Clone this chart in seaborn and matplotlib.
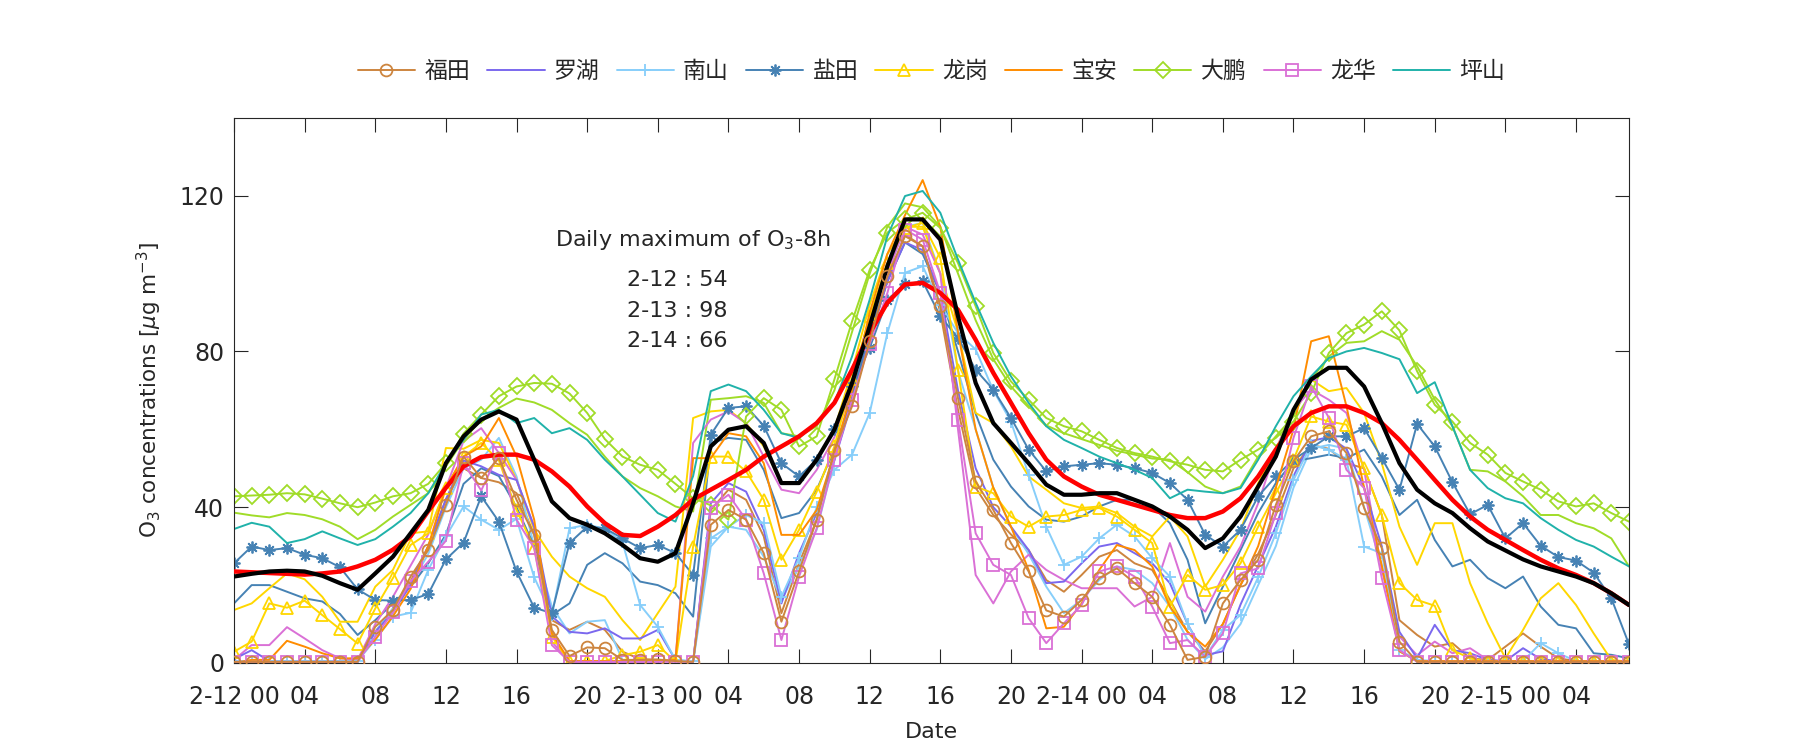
import numpy as np
import matplotlib
matplotlib.use('Agg')
import matplotlib.pyplot as plt
import seaborn as sns

sns.set_style('ticks')
plt.rcParams['font.family'] = ['DejaVu Sans', 'Noto Sans CJK SC']
plt.rcParams['axes.unicode_minus'] = False

# hourly O3 (ug/m3), 2-12 00 .. 2-15 07
hours = np.arange(80)

futian = [0.3, 0.3, 0.3, 0.3, 0.3, 0.3, 0.3, 0.3,
          9.3, 13.6, 22.2, 29, 40.6, 53, 47.5, 52.6, 41.9, 32.9, 8.5, 1.8, 4, 3.8, 0.8, 0.8, 0.9, 0.5, 0.3,
          35.5, 39.3, 36.8, 28.2, 10.6, 23.5, 36.8, 54.8, 65.9, 82.6, 99.3, 109.6, 107, 91.6,
          68, 46.6, 39.3, 30.8, 23.5, 13.5, 11.9, 16.2, 21.8, 24.3, 20.5, 17, 9.8,
          0.8, 1.6, 15.3, 21.3, 26.5, 40.6, 51.8, 58.2, 59.5, 53.9, 39.8, 29.5, 5.5,
          0.3, 0.3, 0.3, 0.3, 0.3, 0.3, 0.3, 0.3, 0.3, 0.3, 0.3, 0.3, 0.3]
futian_b = [0.3, 0.3, 0.3, 0.3, 0.3, 0.3, 0.3, 0.3,
            8, 14, 21, 30, 42, 50, 47.5, 46.4, 43.6, 33, 11, 8.5, 10.6, 8.5, 2.9, 1, 0.8, 0.5, 0.3,
            39.3, 44.5, 41.9, 32.5, 12.8, 25.6, 36.8, 54, 67, 83, 98, 110, 107, 90,
            65, 45, 38, 33, 29, 21.3, 18.3, 22.6, 27.3, 29, 25.6, 23.9, 16.2,
            8, 3, 10, 20, 28, 38, 50, 56, 55, 51.3, 50, 38, 11,
            7.2, 4.2, 5.1, 1.2, 0.8, 4.2, 7.6, 4.2, 1.2, 0.5, 0.5, 0.5, 0.5]
luohu = [1, 3.3, 0.5, 0.5, 0.5, 0.5, 0.5, 0.5,
         8, 13, 20, 30, 42, 52, 50.5, 48.3, 47, 35, 12, 8, 7.6, 8.9, 6.3, 6.3, 8.5, 0.8, 0.3,
         41, 46.2, 44, 34.2, 15.3, 28.2, 38.5, 52, 67, 83, 98, 108, 106, 95,
         70, 50, 40, 35, 29, 20.5, 20.9, 25.6, 29.9, 30.8, 28.2, 25.6, 20.5,
         10, 2, 3, 15, 25, 35, 48, 57, 58, 55, 45, 30, 8,
         1.2, 9.8, 3.3, 2.5, 0.8, 0.5, 3.8, 1, 0.5, 0.5, 0.5, 0.5, 0.5]
nanshan = [0.5, 0.5, 0.5, 0.5, 0.5, 0.5, 0.5, 0.5,
           6, 11.9, 12.9, 23.9, 32.5, 40.2, 36.8, 34.2, 37, 22, 12.3, 34.6, 35.5, 34.5, 31, 14.9, 9.3, 0.8, 0.5,
           32, 35, 38, 35.9, 17, 27, 40, 49.6, 53.5, 64.2, 84.7, 100.2, 101.9, 92,
           84.7, 80.5, 70, 62, 48.3, 35, 25.2, 27.3, 32, 35.5, 32.5, 26.9, 22.2,
           10, 1.6, 8.5, 12.3, 22, 33.3, 47, 56, 54.8, 52.2, 29.9, 28.2, 3.3,
           0.8, 0.5, 0.5, 0.5, 0.5, 0.5, 0.5, 5.1, 2.5, 0.5, 0.5, 0.5, 0.5]
nanshan_b = [0.5, 0.5, 0.5, 0.5, 0.5, 0.5, 0.5, 0.5,
             8, 14, 20, 28, 40, 50, 52.2, 57.8, 47.9, 30, 14.5, 7.6, 10.6, 11, 0.8, 0.5, 0.5, 0.5, 0.3,
             29.9, 35, 34.2, 27.3, 16.2, 24.8, 34.2, 52.2, 68, 85, 100, 112, 113, 100,
             75, 60, 45, 35, 28, 19.6, 12.8, 16.2, 21.3, 24.8, 23.9, 20.5, 14.5,
             6, 1, 4, 10, 20, 30, 45, 55, 56, 55, 40, 25, 3,
             0.5, 0.5, 0.5, 0.5, 0.5, 0.5, 0.5, 0.5, 0.5, 0.5, 0.5, 0.5, 0.5]
yantian = [25.6, 29.9, 29, 29.5, 27.8, 26.9, 24.6, 18.9,
           16.2, 16, 16.2, 17.7, 26.6, 30.9, 42.8, 36.3, 23.5, 14.2, 12.8, 30.8, 35, 34.6, 32, 29.5, 30.3, 28.2, 22.6,
           58.6, 65.5, 65.9, 60.9, 51.3, 47.9, 52.2, 60, 71, 80.9, 93.3, 97.2, 98, 89,
           83.5, 75.3, 70.2, 62.9, 54.8, 49.2, 50.5, 50.9, 51.3, 50.9, 50, 48.8, 46.2,
           41.9, 32.9, 29.9, 34.2, 42.8, 47.9, 52.2, 55.2, 58.2, 58.2, 60.3, 52.6, 44.5,
           61.4, 55.6, 46.4, 38.2, 40.6, 32, 35.9, 30.1, 27.2, 26.3, 23.2, 16.6, 4.8]
yantian_b = [15.3, 20, 20, 18.3, 16.6, 15.8, 12.6, 7.2,
             11, 15.3, 19.6, 25.6, 33, 46, 50, 48, 40, 30, 12.3, 15.3, 25.2, 28.2, 25.6, 20.9, 20, 17.9, 11.9,
             56.5, 57.8, 57.3, 49.6, 37.2, 38.5, 44.5, 54.8, 68, 85, 98, 108, 105, 95,
             80, 64, 52.2, 45.3, 40.2, 36.8, 36.3, 37.6, 40.2, 41.9, 41.9, 40.2, 35.9,
             26.5, 10.2, 19.6, 29, 38.5, 46.2, 51.8, 52.6, 53.5, 52.6, 54.8, 47.9, 38,
             41.9, 31.6, 24.8, 26.5, 21.8, 19.2, 22.2, 14.5, 9.8, 8.9, 2.5, 2.1, 1.2]
longgang = [2.9, 5.5, 15.3, 14.2, 16, 12.3, 8.7, 5,
            14, 21.8, 30.3, 33.3, 45, 53, 56.5, 52, 39.3, 29.5, 6.8, 0.3, 0.5, 0.5, 2, 2.9, 4.6, 0.3, 29.9,
            53, 53, 49.2, 41.9, 26.5, 34.2, 44, 55.6, 72.8, 89, 102.7, 111.7, 113, 104,
            75.3, 45.3, 43.6, 37.6, 35, 37.6, 38, 39.3, 39.8, 37.6, 34.2, 30.8, 14.5,
            22.6, 18.8, 20, 25.6, 35, 43.6, 52.2, 63.3, 62, 61.2, 50, 38, 20.5,
            16.2, 14.7, 3.3, 1.2, 0.3, 0.3, 0.3, 0.3, 0.3, 0.3, 0.3, 0.3, 0.3]
longgang_b = [13.6, 15.3, 19.2, 23, 21.5, 17, 10.6, 10.6,
              19.6, 23.9, 33.3, 33.8, 55.2, 55, 57.3, 56.5, 47, 34.2, 27.3, 22.2, 19.2, 17, 11, 5.9, 12.8, 19.6, 62.9,
              64.6, 65, 61.6, 55.6, 46.2, 46.2, 52, 60, 75, 92, 105, 112, 112, 100,
              85, 64.2, 61.6, 55.6, 47.9, 44.5, 41, 39.8, 40.2, 38.5, 35, 32.5, 37.6,
              32.5, 19.6, 26.5, 34.2, 46.2, 54.8, 65, 72.8, 69.8, 70.6, 64.2, 51.3, 35,
              25.2, 35.9, 35.9, 20.5, 10.2, 1.2, 8.5, 16.6, 20.5, 14.9, 7.6, 0.8, 0.3]
baoan = [0, 0.8, 0.8, 5.7, 4.2, 2.5, 1.2, 1.2,
         6, 12, 19, 30, 45, 53, 55.6, 62.9, 53, 36.8, 7.6, 0.5, 0.5, 0.5, 0.5, 0.5, 0.5, 0.8, 52.6,
         52.6, 59, 58.2, 51.3, 32.9, 32.9, 39.3, 53.9, 70, 90, 105, 115, 124, 112,
         85, 60, 45, 35, 23.9, 8.9, 9.3, 15.3, 23.9, 30.3, 29, 24.8, 14.5,
         8, 4.2, 10, 20, 30, 45, 60, 82.6, 83.9, 65.9, 45, 25, 3,
         0.5, 0.5, 0.5, 0.5, 0.5, 0.5, 0.5, 0.5, 0.5, 0.5, 0.5, 0.5, 0.5]
dapeng = [42.8, 43, 43.2, 43.6, 43.3, 42.2, 41, 40,
          41.2, 42.8, 43.6, 46, 51.3, 58.9, 63.8, 68.5, 71, 71.9, 71.7, 69.2, 64.2, 57.5, 53, 50.9, 49.6, 46, 42.3,
          40.5, 36.8, 63.3, 68, 65, 55.6, 58.2, 72.8, 87.7, 101, 110.5, 113.9, 115.6, 111.7,
          102.7, 91.6, 79.6, 72.3, 67.6, 62.9, 60.8, 59.5, 57.3, 55.2, 53.9, 53, 51.8,
          50.9, 49.6, 49.2, 52.2, 54.8, 57.8, 62, 69.3, 79.6, 84.7, 86.9, 90.3, 85.4,
          74.9, 66.3, 62, 56.5, 53.5, 48.8, 46.6, 44.5, 41.5, 40.2, 41, 38.5, 36.3]
dapeng_b = [38.6, 37.9, 37.4, 38.5, 38, 36.9, 35, 31.8,
            34.2, 37.6, 40.6, 43.6, 50.5, 57.3, 62.5, 65.5, 67.9, 66.9, 65, 61.6, 58.6, 53, 47.9, 44.9, 42.8, 40.2, 38.9,
            67.6, 68, 68.5, 66.8, 59, 58.2, 60.8, 70, 85, 100, 112, 118, 117, 112,
            100, 88, 78, 71, 66, 61, 59, 57.5, 56, 54.5, 53.5, 52.5, 52.2,
            49, 45.3, 43.6, 45.3, 53, 58.2, 63.3, 72.8, 78.7, 82.2, 82.6, 85.2, 83,
            76.2, 67.6, 60.8, 49.6, 49.2, 46.6, 42.8, 38, 38, 35.9, 34.6, 32, 24.8]
longhua = [0.3, 0.3, 0.3, 0.3, 0.3, 0.3, 0.3, 0.3,
           6.8, 13, 21, 26, 31.4, 51.3, 44.3, 54, 36.8, 29.5, 4.6, 0.3, 0.3, 0.3, 0.3, 0.3, 0.3, 0.3, 0.3,
           39.8, 43.2, 36.8, 23, 5.9, 22.2, 34.6, 52.2, 67.6, 82, 95, 111.3, 108.7, 95,
           62.5, 33.3, 25.2, 22.6, 11.5, 5.1, 10.2, 14.9, 23.5, 24.8, 22.2, 14.5, 5.1,
           5.9, 1.6, 7.6, 23, 24.3, 38.5, 57.8, 71, 63, 49.6, 44.9, 21.8, 3.3,
           0.3, 0.3, 0.3, 0.3, 0.3, 0.3, 0.3, 0.3, 0.3, 0.3, 0.3, 0.3, 0.3]
longhua_b = [0.8, 4.6, 4.6, 9.2, 6.3, 3.3, 1.2, 0.8,
             10, 17, 25, 33, 45, 57, 60.3, 53.9, 47, 35, 5.5, 0.3, 0.3, 0.3, 0.3, 0.3, 0.3, 0.8, 56.5,
             62.5, 64.6, 61.6, 53, 44.5, 43.6, 49.6, 58, 70, 88, 100, 112, 110, 100,
             60, 22.6, 15.3, 23.5, 27.8, 23.9, 21.3, 19.2, 19.2, 19.2, 14.5, 17, 30.8,
             17, 13.2, 22.2, 29.9, 41, 54.8, 65, 70.2, 67.6, 64.2, 49.6, 23.9, 6.8,
             2, 5.5, 2.5, 3.8, 0.8, 0.3, 0.3, 0.3, 0.3, 0.3, 0.3, 0.3, 0.3]
pingshan = [34.4, 36, 35, 30.8, 31.8, 33.8, 32, 30.3,
            31.8, 35, 38.5, 43.6, 51.3, 57.3, 63.8, 65, 61.6, 62.9, 59, 60.3, 57.3, 52.2, 47.9, 43.2, 38.5, 36.3, 48,
            69.8, 71.5, 69.8, 65, 59, 57.8, 61.6, 66.8, 78.7, 93.3, 109.6, 119.9, 121.2, 115.6,
            103.6, 92.5, 82.2, 73.6, 66.8, 60.8, 57.3, 55.2, 53, 51.3, 49.6, 47.5, 42.3,
            44.5, 44, 43.6, 44.9, 52.2, 60.8, 68.5, 73.6, 78.3, 80, 80.9, 79.6, 78,
            69.3, 72.1, 60.8, 49.6, 44.9, 42.3, 41, 37.2, 34.2, 31.6, 29.9, 27.3, 24.8]
mean_all = [22.2, 22.9, 23.5, 23.7, 23.5, 22.4, 20.5, 18.8,
            23, 27.3, 33.3, 39.3, 51.3, 58.2, 62.5, 64.6, 62.5, 52.2, 41.5, 37.2, 35.5, 33.3, 30.3, 26.9, 26, 28.2, 41,
            55.6, 59.9, 60.8, 56.5, 46.2, 46.2, 52.2, 59.9, 71.9, 86.5, 101.9, 113.9, 113.9, 108.7,
            89, 71.9, 61.6, 56.5, 51.3, 45.8, 43.2, 43.2, 43.6, 43.6, 41.9, 40.2, 37.6,
            34.2, 29.5, 32, 37.6, 45.3, 53, 65, 72.8, 75.8, 75.8, 71, 61.6, 51.3,
            44.5, 41, 38.5, 34.6, 31.2, 28.9, 26.6, 24.8, 23.5, 22.2, 20.5, 17.9, 14.9]
mean_8h = [23.5, 23.3, 23.1, 22.9, 22.7, 23, 23.5, 24.8,
           26.5, 29.1, 32.5, 39, 45, 50.5, 52.9, 53.5, 53.5, 52.2, 49.2, 45.3, 40.2, 35.9, 32.9, 32.6, 35, 38, 42,
           44.5, 47, 49.6, 53, 55.6, 58.2, 61.6, 66.8, 75.3, 84.7, 92.5, 97.2, 97.6, 95,
           90.7, 83, 74.5, 66.8, 59, 52.2, 47.9, 45.3, 43.2, 41.9, 40.6, 39.3, 38,
           37.2, 37.2, 38.9, 42.3, 47.9, 54.8, 60.8, 64.2, 65.9, 65.9, 64.2, 61.6, 57.3,
           52.2, 47, 41.9, 37.6, 34.2, 31.6, 29, 26.5, 24.3, 22.6, 20.5, 17.9, 14.9]

tick_hours = np.arange(0, 80, 4)
tick_labels = ['2-12 00', '04', '08', '12', '16', '20',
               '2-13 00', '04', '08', '12', '16', '20',
               '2-14 00', '04', '08', '12', '16', '20',
               '2-15 00', '04']
note_lines = ['2-12 : 54', '2-13 : 98', '2-14 : 66']

fig = plt.figure(figsize=(18, 7.5), dpi=100)
ax = fig.add_axes([0.13, 0.116, 0.775, 0.727])

lw = 1.4
ms = 8.5

def draw(vals, color, marker=None, label=None, z=2):
    kw = dict(x=hours, y=vals, ax=ax, color=color, linewidth=lw, errorbar=None,
              label=label if label else '_nolegend_', zorder=z)
    if marker is not None:
        kw.update(marker=marker, markersize=ms, markerfacecolor='none',
                  markeredgecolor=color, markeredgewidth=1.3)
    sns.lineplot(**kw)

# second stations (no markers)
draw(futian_b, '#CD853F')
draw(nanshan_b, '#87CEFA')
draw(yantian_b, '#4682B4')
draw(longgang_b, '#FFD700')
draw(dapeng_b, '#A0DC28')
draw(longhua_b, '#DA70D6')

draw(luohu, '#7B68EE', None, '罗湖')
draw(nanshan, '#87CEFA', '+', '南山')
draw(yantian, '#4682B4', (8, 2, 0), '盐田')
draw(longgang, '#FFD700', '^', '龙岗')
draw(baoan, '#FF8C00', None, '宝安')
draw(dapeng, '#A0DC28', 'D', '大鹏')
draw(longhua, '#DA70D6', 's', '龙华')
draw(pingshan, '#20B2AA', None, '坪山')

sns.lineplot(x=hours, y=mean_8h, ax=ax, color='red', linewidth=3.2, errorbar=None,
             label='_nolegend_', zorder=3)
sns.lineplot(x=hours, y=mean_all, ax=ax, color='black', linewidth=3.0, errorbar=None,
             label='_nolegend_', zorder=3.1)
draw(futian, '#CD853F', 'o', '福田', z=3.2)

# legend in the original order
order = ['福田', '罗湖', '南山', '盐田', '龙岗', '宝安', '大鹏', '龙华', '坪山']
h, l = ax.get_legend_handles_labels()
hd = dict(zip(l, h))
ax.legend([hd[k] for k in order], order, loc='center', bbox_to_anchor=(0.5, 1.085),
          ncol=9, frameon=False, fontsize=16.5, handlelength=2.5,
          columnspacing=0.75, handletextpad=0.4)

ax.set_xlim(0, 79)
ax.set_ylim(0, 140)
ax.set_xticks(tick_hours)
ax.set_xticklabels(tick_labels)
ax.set_yticks([0, 40, 80, 120])
ax.tick_params(direction='in', top=True, right=True, length=10, width=0.8,
               labelsize=17, colors='#262626')
ax.tick_params(axis='x', pad=16)
ax.tick_params(axis='y', pad=7)
for s in ax.spines.values():
    s.set_visible(True)
    s.set_linewidth(0.8)
    s.set_color('#262626')

ax.set_xlabel('Date', fontsize=16, color='#262626', labelpad=9)
ax.set_ylabel(r'O$_3$ concentrations [$\mu$g m$^{-3}$]', fontsize=15.5, color='#262626', labelpad=11)

ax.text(26, 108.5, 'Daily maximum of O$_3$-8h', ha='center', va='center', fontsize=16)
for i, t in enumerate(note_lines):
    ax.text(25.1, 98.3 - 7.8 * i, t, ha='center', va='center', fontsize=16)

fig.savefig('out.png', dpi=100)
